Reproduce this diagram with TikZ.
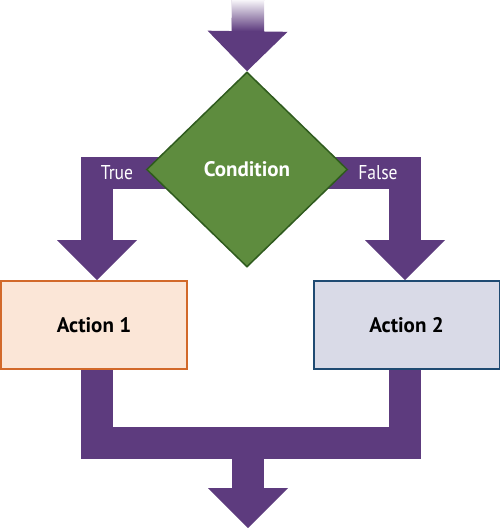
\documentclass[tikz,border=0pt]{standalone}
\usepackage{fontspec}
\setmainfont{PT Sans}
\newfontfamily\angosta[FakeStretch=0.88]{PT Sans}
\usetikzlibrary{shapes.geometric,arrows.meta}
\definecolor{morado}{HTML}{5D3B7E}
\definecolor{verde}{HTML}{5E8C3E}
\definecolor{verdeosc}{HTML}{2F5B1E}
\definecolor{naranja}{HTML}{D2692A}
\definecolor{durazno}{HTML}{FBE6D7}
\definecolor{azul}{HTML}{1F4A72}
\definecolor{lavanda}{HTML}{D9DAE7}
\pgfdeclarelayer{fondo}
\pgfsetlayers{fondo,main}
\tikzset{
  flecha/.style={draw=morado, line width=32pt, -{Triangle[width=80pt,length=40pt,line width=0pt]}},
  barra/.style={draw=morado, line width=32pt},
  accion/.style={rectangle, line width=2pt, minimum width=186pt, minimum height=88pt, font=\fontsize{21}{24}\selectfont\bfseries},
  etiqueta/.style={text=white, font=\angosta\fontsize{20}{22}\selectfont}
}
\begin{document}
\begin{tikzpicture}[x=1pt,y=-1pt]
  \useasboundingbox (0,0) rectangle (500,528);
  %nodos
  \node[diamond, draw=verdeosc, fill=verde, line width=1.5pt, minimum width=201pt, minimum height=195pt, text=white, font=\fontsize{21}{24}\selectfont\bfseries] at (247,169.5) (cond) {Condition};
  \node[accion, draw=naranja, fill=durazno] at (94,325) (acc1) {Action 1};
  \node[accion, draw=azul, fill=lavanda] at (406.5,325) (acc2) {Action 2};
  \coordinate (entrada) at (248,0);
  \coordinate (union) at (248,443);
  \coordinate (salida) at (248,528);
  %%%% FLECHAS
  \begin{pgfonlayer}{fondo}
  \draw [flecha] (entrada) -- (cond.north);
  \shade [top color=morado!5, bottom color=morado] ([xshift=-16pt]entrada) rectangle ([xshift=16pt,yshift=-31pt]entrada);
  \draw [flecha] ([yshift=-3.5pt]cond.center) -| ([xshift=3pt]acc1.north);
  \draw [flecha] ([yshift=-3.5pt]cond.center) -| ([xshift=-1.5pt]acc2.north);
  \draw [barra] ([xshift=3pt]acc1.south) |- (union) -| ([xshift=-1.5pt]acc2.south);
  \draw [flecha] (union) -- (salida);
  \end{pgfonlayer}
  %etiquetas
  \node[etiqueta] at (117,173) (verdadero) {True};
  \node[etiqueta] at (378,173) (falso) {False};
\end{tikzpicture}
\end{document}
